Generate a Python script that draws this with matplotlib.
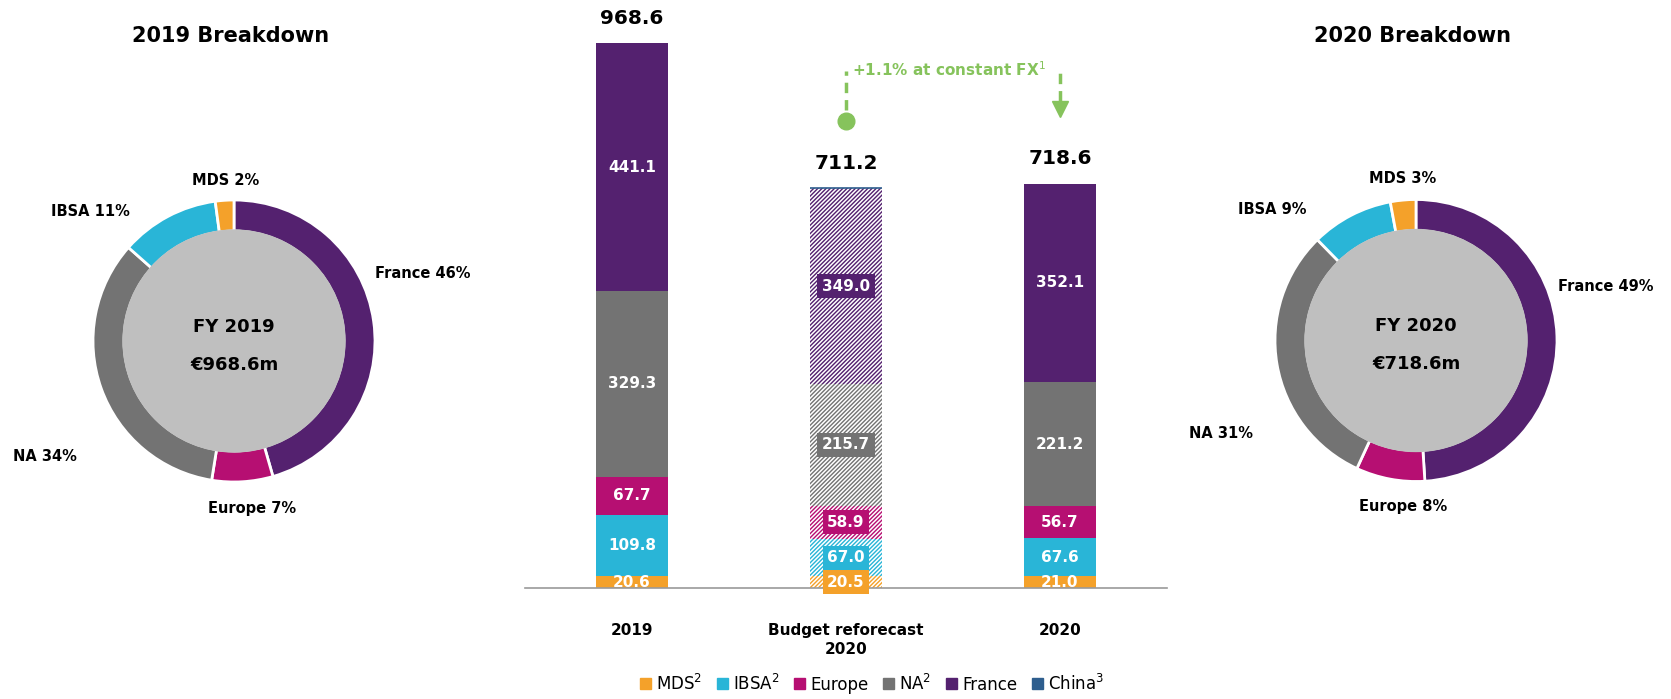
import matplotlib
matplotlib.use("Agg")
import matplotlib.pyplot as plt
from matplotlib.patches import Circle

plt.rcParams['font.family'] = ['DejaVu Sans']
plt.rcParams['hatch.linewidth'] = 1.1

# data
regions = ["MDS", "IBSA", "Europe", "NA", "France", "China"]
legend_labels = ["MDS$^2$", "IBSA$^2$", "Europe", "NA$^2$", "France", "China$^3$"]
colors = ["#f4a12a", "#29b5d7", "#b60f72", "#737373", "#54216f", "#2e5e8e"]
bar_names = ["2019", "Budget reforecast\n2020", "2020"]
mds = [20.6, 20.5, 21.0]
ibsa = [109.8, 67.0, 67.6]
europe = [67.7, 58.9, 56.7]
na = [329.3, 215.7, 221.2]
france = [441.1, 349.0, 352.1]
china = [0.0, 0.1, 0.0]
totals = [968.6, 711.2, 718.6]
hatched = [False, True, False]

pie_order = ["France", "Europe", "NA", "IBSA", "MDS"]
pct_2019 = [46, 7, 34, 11, 2]
pct_2020 = [49, 8, 31, 9, 3]

green = "#86c35c"

fig = plt.figure(figsize=(16.71, 6.99), dpi=100)

# ---- stacked bars ----
ax = fig.add_axes([525 / 1671, 111 / 699, 642 / 1671, 588 / 699])
series = [mds, ibsa, europe, na, france, china]
x = list(range(len(bar_names)))
bottoms = [0.0] * len(x)
for name, vals, col in zip(regions, series, colors):
    for i in x:
        if vals[i] <= 0:
            continue
        if hatched[i]:
            ax.bar(i, vals[i], bottom=bottoms[i], width=0.336, facecolor=col,
                   edgecolor="white", hatch="////////", linewidth=0)
            if name == "China":
                ax.bar(i, vals[i], bottom=bottoms[i], width=0.336, facecolor=col,
                       edgecolor=col, linewidth=1.2)
        else:
            ax.bar(i, vals[i], bottom=bottoms[i], width=0.336, color=col, linewidth=0)
        if name != "China":
            yc = bottoms[i] + vals[i] / 2
            box = None
            if hatched[i]:
                box = dict(boxstyle="square,pad=0.3", fc=col, ec="none")
            ax.text(i, yc, f"{vals[i]:.1f}", ha="center", va="center", color="white",
                    fontsize=11, fontweight="bold", bbox=box, clip_on=False, zorder=5)
        bottoms[i] += vals[i]

for i in x:
    ax.annotate(f"{totals[i]:.1f}", (i, bottoms[i]), xytext=(0, 11),
                textcoords="offset points", ha="center", va="bottom",
                fontsize=14.5, fontweight="bold")

ax.set_xlim(-0.5, 2.5)
ax.set_ylim(0, 1045)
ax.set_xticks(x)
ax.set_xticklabels(bar_names, fontsize=11, fontweight="bold", linespacing=1.35)
ax.tick_params(axis="x", length=0, pad=25)
ax.set_yticks([])
for s in ["top", "right", "left"]:
    ax.spines[s].set_visible(False)
ax.spines["bottom"].set_color("#9a9a9a")
ax.spines["bottom"].set_linewidth(1.2)

# constant FX annotation
ax.plot([1, 1], [850, 918], color=green, lw=2.5, ls=(0, (3, 2)), clip_on=False)
ax.plot([1], [830], "o", color=green, ms=12, clip_on=False)
ax.plot([2, 2], [866, 918], color=green, lw=2.5, ls=(0, (3, 2)), clip_on=False)
ax.plot([2], [852], "v", color=green, ms=11, clip_on=False)
ax.text(1.027, 922, "+1.1% at constant FX$^1$", color=green, fontsize=11,
        fontweight="bold", ha="left", va="center")

# ---- donuts ----
def donut(cx, cy, col_idx, pcts, year, total, label_pos):
    r_px = 141
    half = 200
    pax = fig.add_axes([(cx - half) / 1671, (699 - cy - half) / 699,
                        2 * half / 1671, 2 * half / 699])
    vals = [series[regions.index(n)][col_idx] for n in pie_order]
    cols = [colors[regions.index(n)] for n in pie_order]
    pax.pie(vals, colors=cols, startangle=90, counterclock=False, radius=1,
            wedgeprops=dict(width=0.22, edgecolor="white", linewidth=2))
    # grey centre, covering the white inner edge of the ring
    pax.add_patch(Circle((0, 0), 0.787, color="#bfbfbf", zorder=3))
    lim = half / r_px
    pax.set_xlim(-lim, lim)
    pax.set_ylim(-lim, lim)
    pax.axis("off")
    pax.text(0, 0.1, f"FY {year}", ha="center", va="center", fontsize=13,
             fontweight="bold", zorder=4)
    pax.text(0, -0.17, f"€{total:.1f}m", ha="center", va="center", fontsize=13,
             fontweight="bold", zorder=4)
    for n, p, (lx, ly, ha) in zip(pie_order, pcts, label_pos):
        pax.text(lx, ly, f"{n} {p}%", ha=ha, va="center", fontsize=10.5,
                 fontweight="bold")

donut(234, 341, 0, pct_2019, "2019", totals[0],
      [(1.0, 0.48, "left"), (0.128, -1.19, "center"), (-1.34, -0.816, "center"),
       (-1.02, 0.915, "center"), (-0.06, 1.14, "center")])
donut(1416, 340.5, 2, pct_2020, "2020", totals[2],
      [(1.007, 0.38, "left"), (-0.092, -1.18, "center"), (-1.385, -0.66, "center"),
       (-1.018, 0.93, "center"), (-0.092, 1.15, "center")])

fig.text(231 / 1671, 1 - 36 / 699, "2019 Breakdown", ha="center", va="center",
         fontsize=15, fontweight="bold")
fig.text(1412 / 1671, 1 - 36 / 699, "2020 Breakdown", ha="center", va="center",
         fontsize=15, fontweight="bold")

# legend
handles = [plt.Rectangle((0, 0), 1, 1, color=c) for c in colors]
fig.legend(handles, legend_labels, loc="center", bbox_to_anchor=(872 / 1671, 0.022),
           ncol=6, frameon=False, fontsize=12, handlelength=0.65, handleheight=0.65,
           handletextpad=0.3, columnspacing=0.9)

fig.savefig("out.png", dpi=100)
